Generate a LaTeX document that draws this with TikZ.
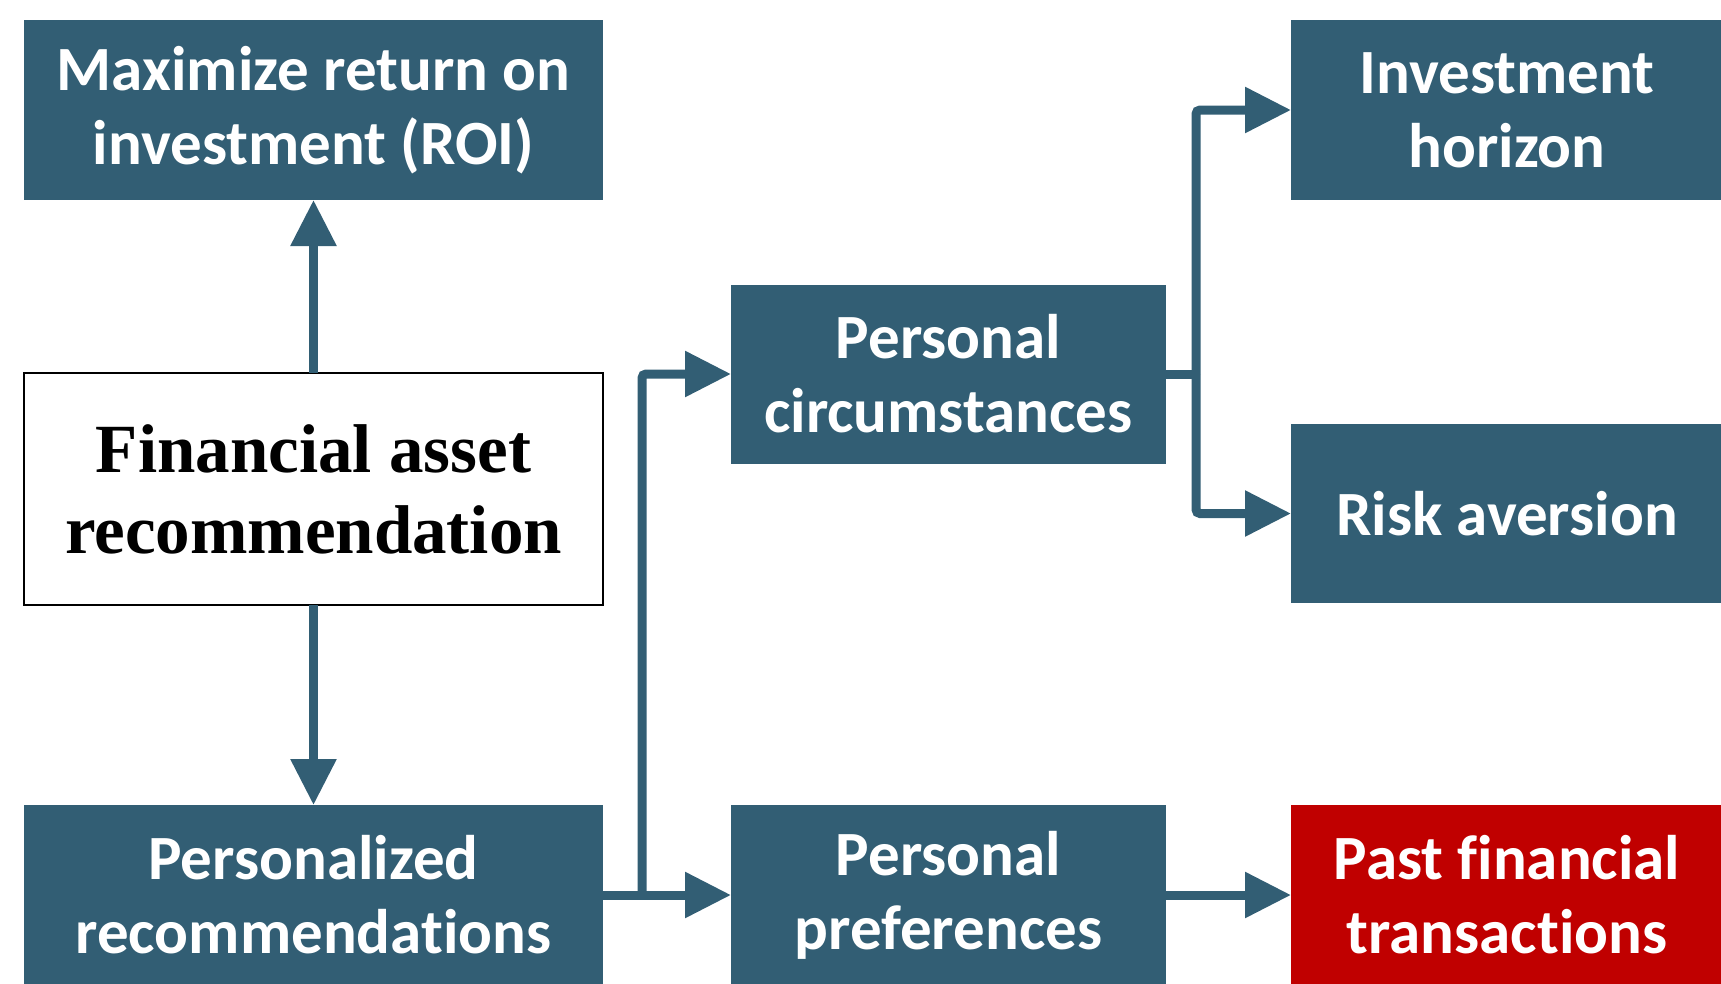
\documentclass[tikz,border=0pt]{standalone}
\usepackage{fontspec}
\usetikzlibrary{arrows.meta}
\newfontfamily\calfont[Ligatures={NoCommon,NoContextual}]{Carlito}
\newfontfamily\tnrfont{Liberation Serif}
\definecolor{boxblue}{HTML}{325E74}
\definecolor{boxred}{HTML}{C00000}
\tikzset{
  bbox/.style={fill=boxblue, text=white, inner sep=0pt, outer sep=0pt, align=center,
    font=\calfont\bfseries\fontsize{63}{74}\selectfont},
  rbox/.style={bbox, fill=boxred},
  wbox/.style={draw=black, line width=1.5pt, fill=white, text=black, inner sep=0pt, outer sep=0pt, align=center,
    font=\tnrfont\bfseries\fontsize{69}{81}\selectfont},
  conn/.style={draw=boxblue, line width=9pt, rounded corners=4pt},
  arr/.style={conn, -{Triangle[length=46pt, width=44pt]}}
}
\begin{document}
\begin{tikzpicture}[x=1pt, y=-1pt]
\useasboundingbox (0,0) rectangle (1721,983);
\node[bbox, minimum width=579pt, minimum height=180pt] (roi) at (313.5,110) {Maximize return on\\investment (ROI)};
\node[wbox, minimum width=579pt, minimum height=232pt] (far) at (313.5,489) {Financial asset\\recommendation};
\node[bbox, minimum width=579pt, minimum height=180pt] (pers) at (313.5,895) {Personalized\\recommendations};
\node[bbox, minimum width=435pt, minimum height=179pt] (circ) at (948.5,374) {Personal\\circumstances};
\node[bbox, minimum width=435pt, minimum height=180pt] (pref) at (948.5,895) {Personal\\preferences};
\node[bbox, minimum width=432pt, minimum height=180pt] (ih) at (1507,110) {Investment\\horizon};
\node[bbox, minimum width=432pt, minimum height=179pt] (ra) at (1507,513.5) {Risk aversion};
\node[rbox, minimum width=432pt, minimum height=180pt] (pft) at (1507,895) {Past financial\\transactions};
\coordinate (j1) at (642,895);
\coordinate (j2) at (1196,374);
\draw[arr] (far.north) -- (roi.south);
\draw[arr] (far.south) -- (pers.north);
\draw[arr] (pers.east) -- (pref.west);
\draw[arr] (j1) |- (circ.west);
\draw[conn] (circ.east) -- (j2);
\draw[arr] (j2) |- (ih.west);
\draw[arr] (j2) |- (ra.west);
\draw[arr] (pref.east) -- (pft.west);
\end{tikzpicture}
\end{document}
